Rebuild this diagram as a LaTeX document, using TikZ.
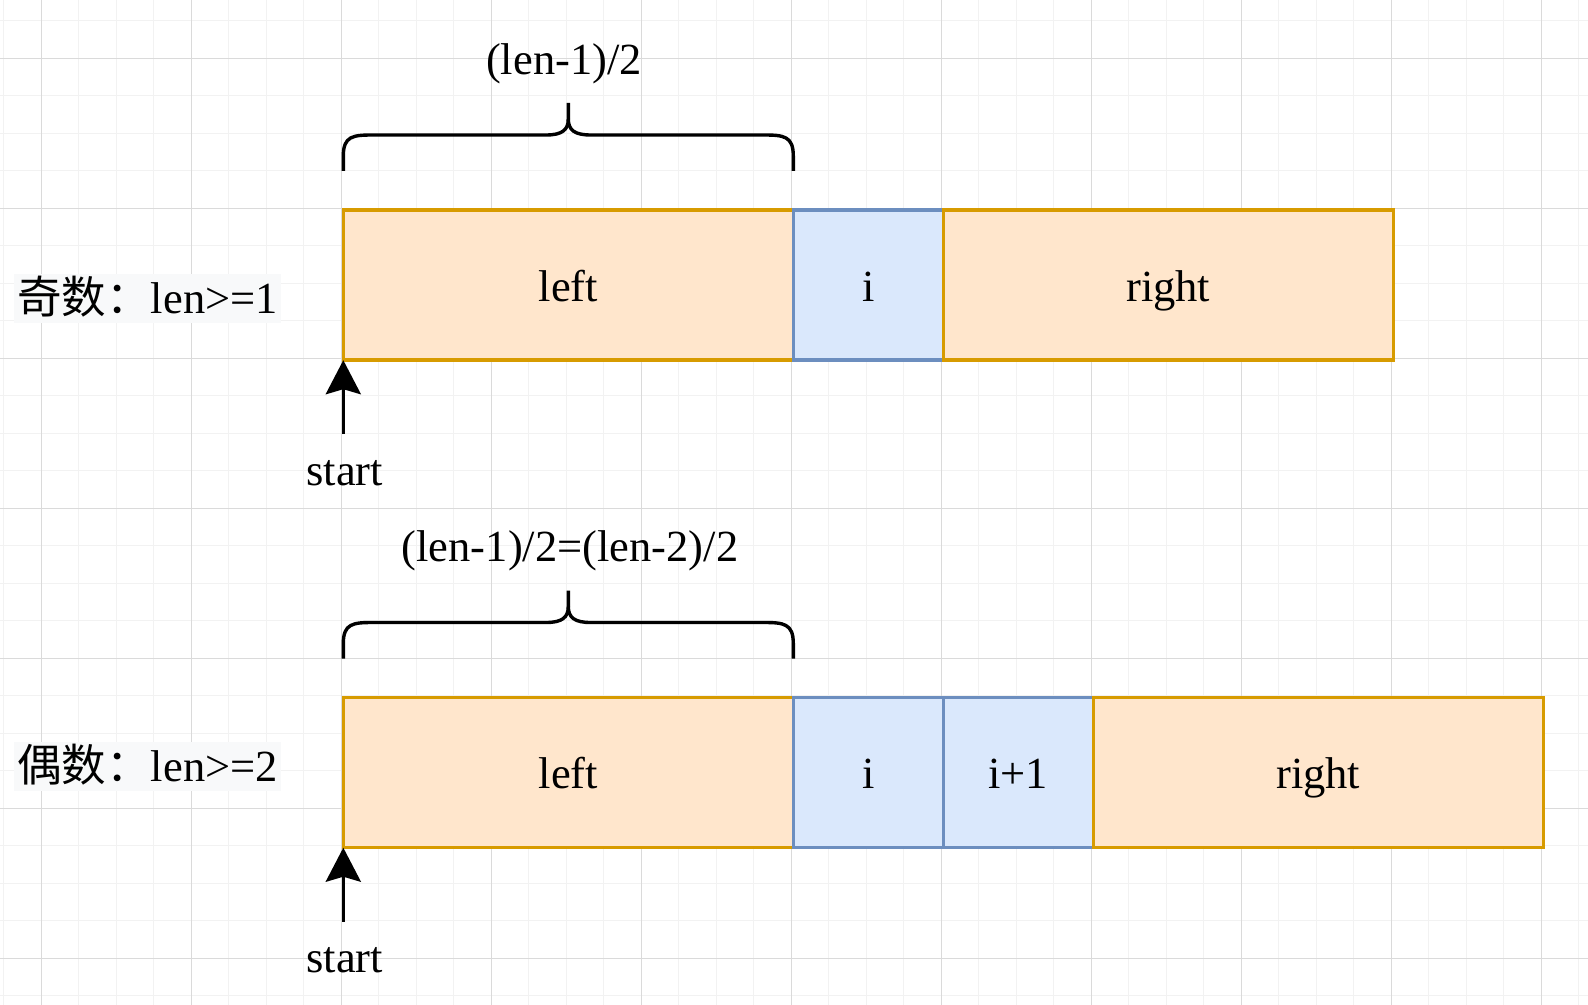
\documentclass[tikz,border=0pt]{standalone}
\usepackage{fontspec}
\setmainfont{Liberation Serif}
\newfontfamily\cjk{Noto Sans CJK SC}
\usetikzlibrary{arrows.meta}
\definecolor{gridminor}{HTML}{F2F2F2}
\definecolor{gridmajor}{HTML}{DADADA}
\definecolor{ofill}{HTML}{FFE6CC}
\definecolor{odraw}{HTML}{D79B00}
\definecolor{bfill}{HTML}{DAE8FC}
\definecolor{bdraw}{HTML}{6C8EBF}
\definecolor{lblbg}{HTML}{F8F9FA}
\begin{document}
\begin{tikzpicture}[x=0.5pt,y=-0.5pt,
  txt/.style={font=\fontsize{22.25}{26}\selectfont, inner sep=0pt},
  cell/.style={txt, minimum height=75pt, line width=1.75pt, outer sep=0pt, text height=20pt, text depth=4pt},
  ocell/.style={cell, fill=ofill, draw=odraw, minimum width=225pt},
  bcell/.style={cell, fill=bfill, draw=bdraw, minimum width=75pt},
  brace/.style={line width=1.7pt, line join=round},
  ptr/.style={line width=1.8pt, -{Stealth[length=17pt,width=17.5pt,inset=2.5pt]}},
  tag/.style={txt, fill=lblbg, inner xsep=1.5pt, text height=19.65pt, text depth=4.85pt, anchor=base west}
]
\useasboundingbox (0,0) rectangle (1588,1005);
\fill[white] (0,0) rectangle (1588,1005);

% background grid
\foreach \i in {0,...,42} \draw[gridminor, line width=0.5pt] (3.8+37.5*\i,0) -- (3.8+37.5*\i,1005);
\foreach \j in {0,...,26} \draw[gridminor, line width=0.5pt] (0,20.8+37.5*\j) -- (1588,20.8+37.5*\j);
\foreach \i in {0,...,10} \draw[gridmajor, line width=0.5pt] (41.3+150*\i,0) -- (41.3+150*\i,1005);
\foreach \j in {0,...,6} \draw[gridmajor, line width=0.5pt] (0,58.3+150*\j) -- (1588,58.3+150*\j);

% odd length
\node[ocell] (L1) at (568.3,285.2) {left};
\node[bcell] (I1) at (868.3,285.2) {i};
\node[ocell] (R1) at (1168.3,285.2) {right};

% even length
\node[ocell] (L2) at (568.3,772.7) {left};
\node[bcell] (I2) at (868.3,772.7) {i};
\node[bcell] (J2) at (1018.3,772.7) {i+1};
\node[ocell] (R2) at (1318.3,772.7) {right};

% braces over the left halves
\foreach \dy in {0,487.5} {
  \draw[brace] (343.3,171+\dy) -- (343.3,156+\dy) .. controls (343.3,136+\dy) and (353,135+\dy) .. (373,135+\dy)
    -- (546,135+\dy) .. controls (562,135+\dy) and (568.3,130+\dy) .. (568.3,119+\dy) -- (568.3,103+\dy);
  \draw[brace] (793.3,171+\dy) -- (793.3,156+\dy) .. controls (793.3,136+\dy) and (783.6,135+\dy) .. (763.6,135+\dy)
    -- (590.6,135+\dy) .. controls (574.6,135+\dy) and (568.3,130+\dy) .. (568.3,119+\dy);
}
\node[txt, anchor=base] (w1) at (564,74.3) {(len-1)/2};
\node[txt, anchor=base] (w2) at (570,561.7) {(len-1)/2=(len-2)/2};

% start pointers
\node[txt, anchor=base] (s1) at (344.7,485) {start};
\coordinate (a1) at (343.3,434);
\draw[ptr] (a1) -- (L1.south west);
\node[txt, anchor=base] (s2) at (344.7,972.5) {start};
\coordinate (a2) at (343.3,921.5);
\draw[ptr] (a2) -- (L2.south west);

% row labels
\node[tag] (t1) at (14,313.3) {{\cjk 奇数：}len>=1};
\node[tag] (t2) at (14,781.7) {{\cjk 偶数：}len>=2};
\end{tikzpicture}
\end{document}
